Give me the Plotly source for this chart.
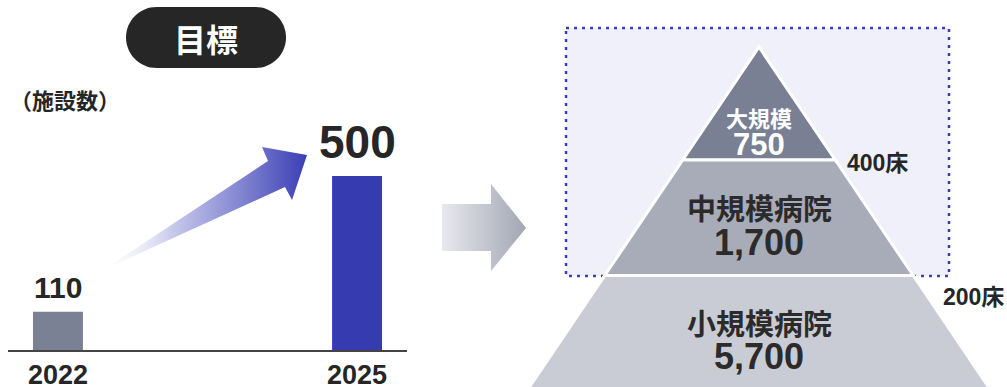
import plotly.graph_objects as go

# ---- data ----
years = ["2022", "2025"]
facilities = [110, 500]
bar_colors = ["#7b8194", "#363bb0"]
target_label = "目標"
unit_label = "（施設数）"
tier_names = ["大規模", "中規模病院", "小規模病院"]
tier_values = [750, 1700, 5700]
tier_colors = ["#7a8093", "#a8acb8", "#c9ccd4"]
tier_text_colors = ["#ffffff", "#2b2b2b", "#2b2b2b"]
bed_thresholds = ["400床", "200床"]

W, H = 1007, 387
FONT = "Liberation Sans, Arial, Noto Sans CJK JP, sans-serif"
CJK = "Noto Sans CJK JP, Liberation Sans, sans-serif"
TXT = "#262626"

fig = go.Figure()

# bars
fig.add_trace(go.Bar(
    x=years, y=facilities, width=0.167,
    marker=dict(color=bar_colors, line=dict(width=0)),
    xaxis="x", yaxis="y", hoverinfo="skip", showlegend=False))

# gradient growth arrow (overlay pixel axes)
ax = [103, 268, 262, 307, 292, 285, 103]
ay = [270, 161, 147, 155, 200, 187, 270]
fig.add_trace(go.Scatter(
    x=ax, y=ay, mode="lines", fill="toself", line=dict(width=0),
    fillgradient=dict(type="horizontal", start=103, stop=307,
                      colorscale=[[0, "rgba(240,240,250,0.0)"], [0.35, "#c5c7ea"],
                                  [0.7, "#7d80cf"], [1, "#3a3eb5"]]),
    xaxis="x2", yaxis="y2", hoverinfo="skip", showlegend=False))

# middle gray arrow
mx = [442, 491, 491, 526, 491, 491, 442, 442]
my = [204, 204, 184, 228, 271, 251, 251, 204]
fig.add_trace(go.Scatter(
    x=mx, y=my, mode="lines", fill="toself", line=dict(width=0),
    fillgradient=dict(type="horizontal", start=442, stop=526,
                      colorscale=[[0, "#e8e9ee"], [1, "#a2a6b2"]]),
    xaxis="x2", yaxis="y2", hoverinfo="skip", showlegend=False))

shapes = []
# pill
k = 0.5523
r = 30.5
cy = 37.5
lx, rx = 156.5, 255.5
pill = (f"M {lx},{cy-r} L {rx},{cy-r} "
        f"C {rx+k*r},{cy-r} {rx+r},{cy-k*r} {rx+r},{cy} "
        f"C {rx+r},{cy+k*r} {rx+k*r},{cy+r} {rx},{cy+r} "
        f"L {lx},{cy+r} "
        f"C {lx-k*r},{cy+r} {lx-r},{cy+k*r} {lx-r},{cy} "
        f"C {lx-r},{cy-k*r} {lx-k*r},{cy-r} {lx},{cy-r} Z")
shapes.append(dict(type="path", path=pill, xref="x2", yref="y2",
                   fillcolor="#262626", line=dict(width=0), layer="below"))

# dotted highlight box
shapes.append(dict(type="rect", xref="x2", yref="y2", x0=566, x1=949, y0=28, y1=276,
                   fillcolor="#f0f0fa", line=dict(color="#3a3eb5", width=2.5, dash="3px,5px"),
                   layer="below"))

# pyramid tiers
cx, apex, slope = 759, 47, 0.675
bounds = [apex, 160, 275.5, 395]
for i in range(3):
    ya, yb = bounds[i], bounds[i + 1]
    ha, hb = slope * (ya - apex), slope * (yb - apex)
    path = (f"M {cx-ha},{ya} L {cx+ha},{ya} L {cx+hb},{yb} L {cx-hb},{yb} Z")
    shapes.append(dict(type="path", path=path, xref="x2", yref="y2",
                       fillcolor=tier_colors[i], line=dict(color="white", width=3),
                       layer="below"))

ann = []
# pill text
ann.append(dict(x=206, y=38, xref="x2", yref="y2", text=target_label, showarrow=False,
                font=dict(family=CJK, size=32, color="white", weight="bold")))
ann.append(dict(x=8, y=99, xref="x2", yref="y2", text=unit_label, showarrow=False,
                xanchor="left", font=dict(family=CJK, size=22, color=TXT, weight="bold")))

# bar value labels and years (category index used as position)
val_sizes = [30, 46]
for i, (yr, v) in enumerate(zip(years, facilities)):
    ann.append(dict(x=i, y=v, xref="x", yref="y", text=str(v), showarrow=False,
                    yanchor="bottom", yshift=6,
                    font=dict(family=FONT, size=val_sizes[i], color=TXT, weight="bold")))
    ann.append(dict(x=i, y=0, xref="x", yref="y", text=yr, showarrow=False,
                    yanchor="top", yshift=-8,
                    font=dict(family=FONT, size=27, color=TXT, weight="bold")))

# pyramid labels
name_y = [117, 207, 322]
val_y = [144, 242, 356]
name_sizes = [22, 29, 29]
num_sizes = [31, 36, 36]
for i in range(3):
    ann.append(dict(x=cx, y=name_y[i], xref="x2", yref="y2", text=tier_names[i], showarrow=False,
                    font=dict(family=CJK, size=name_sizes[i], color=tier_text_colors[i], weight="bold")))
    ann.append(dict(x=cx, y=val_y[i], xref="x2", yref="y2", text=f"{tier_values[i]:,}", showarrow=False,
                    font=dict(family=FONT, size=num_sizes[i], color=tier_text_colors[i], weight="bold")))

bed_x = [877, 973]
bed_y = [163, 297]
for i in range(2):
    ann.append(dict(x=bed_x[i], y=bed_y[i], xref="x2", yref="y2", text=bed_thresholds[i], showarrow=False,
                    font=dict(family=FONT, size=23, color=TXT, weight="bold")))

fig.update_layout(
    width=W, height=H, margin=dict(l=0, r=0, t=0, b=0),
    paper_bgcolor="white", plot_bgcolor="rgba(0,0,0,0)",
    showlegend=False, shapes=shapes, annotations=ann, hovermode=False,
    xaxis=dict(domain=[8 / W, 407 / W], type="category", range=[-0.167, 1.167],
               showline=True, linecolor="#444444", linewidth=2, showticklabels=False,
               showgrid=False, zeroline=False, ticks="", fixedrange=True, anchor="y"),
    yaxis=dict(domain=[37 / H, 232 / H], range=[0, 560], visible=False,
               showgrid=False, zeroline=False, fixedrange=True, anchor="x"),
    xaxis2=dict(domain=[0, 1], range=[0, W], visible=False, anchor="y2", fixedrange=True),
    yaxis2=dict(domain=[0, 1], range=[H, 0], visible=False, anchor="x2", fixedrange=True),
)

fig.write_html("out.html", config={"displayModeBar": False, "staticPlot": True},
               post_script="document.body.style.margin='0';document.body.style.overflow='hidden';")
